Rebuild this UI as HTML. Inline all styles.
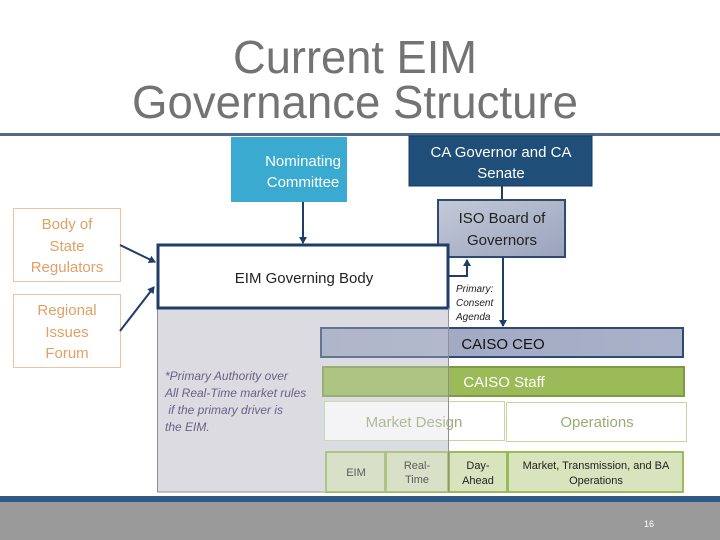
<!DOCTYPE html>
<html><head><meta charset="utf-8"><style>
html,body{margin:0;padding:0;background:#fff;}
svg{display:block;font-family:"Liberation Sans",sans-serif;}
</style></head><body>
<svg width="720" height="540" viewBox="0 0 720 540" xmlns="http://www.w3.org/2000/svg">
<defs>
<linearGradient id="gb" x1="0" y1="0" x2="1" y2="1"><stop offset="0" stop-color="#c4cad8"/><stop offset="1" stop-color="#9aa3bd"/></linearGradient>
<linearGradient id="ceo" x1="0" y1="0" x2="1" y2="0"><stop offset="0" stop-color="#9ea6c0"/><stop offset="1" stop-color="#aab2ca"/></linearGradient>
<marker id="ah" markerWidth="8" markerHeight="8" refX="6" refY="4" orient="auto" markerUnits="userSpaceOnUse"><path d="M0,0 L7,4 L0,8 z" fill="#1f3d66"/></marker>
</defs>
<text x="355" y="73" font-size="46" fill="#737373" text-anchor="middle" textLength="244" lengthAdjust="spacingAndGlyphs">Current EIM</text>
<text x="355" y="118" font-size="46" fill="#737373" text-anchor="middle" textLength="446" lengthAdjust="spacingAndGlyphs">Governance Structure</text>
<rect x="0" y="133" width="720" height="3" fill="#4f6a8a"/>
<rect x="157.5" y="308" width="291" height="184" fill="#dcdbe2" stroke="#8f8f9a" stroke-width="1"/>
<rect x="231" y="137" width="116" height="65" fill="#3aaad0"/>
<text x="303" y="166" font-size="15" fill="#fff" text-anchor="middle">Nominating</text>
<text x="303" y="187" font-size="15" fill="#fff" text-anchor="middle">Committee</text>
<rect x="409" y="136" width="183" height="50" fill="#1f4e79" stroke="#173a5e"/>
<text x="501" y="157" font-size="15" fill="#fff" text-anchor="middle">CA Governor and CA</text>
<text x="501" y="178" font-size="15" fill="#fff" text-anchor="middle">Senate</text>
<line x1="502" y1="186" x2="502" y2="200" stroke="#1f3d66" stroke-width="2"/>
<rect x="438" y="200" width="127" height="57" fill="url(#gb)" stroke="#2f4a70" stroke-width="2"/>
<text x="502" y="223" font-size="15" fill="#222" text-anchor="middle">ISO Board of</text>
<text x="502" y="245" font-size="15" fill="#222" text-anchor="middle">Governors</text>
<rect x="13.5" y="208.5" width="107" height="73" fill="#fff" stroke="#f2c39a"/>
<text x="67" y="229" font-size="15" fill="#e3a064" text-anchor="middle">Body of</text>
<text x="67" y="251" font-size="15" fill="#e3a064" text-anchor="middle">State</text>
<text x="67" y="272" font-size="15" fill="#e3a064" text-anchor="middle">Regulators</text>
<rect x="13.5" y="294.5" width="107" height="73" fill="#fff" stroke="#f2c39a"/>
<text x="67" y="315" font-size="15" fill="#e3a064" text-anchor="middle">Regional</text>
<text x="67" y="337" font-size="15" fill="#e3a064" text-anchor="middle">Issues</text>
<text x="67" y="358" font-size="15" fill="#e3a064" text-anchor="middle">Forum</text>
<rect x="158" y="245" width="290" height="63" fill="#fff" stroke="#1f3d66" stroke-width="3"/>
<text x="304" y="283" font-size="15" fill="#222" text-anchor="middle">EIM Governing Body</text>
<line x1="303" y1="202" x2="303" y2="243" stroke="#1f3d66" stroke-width="2" marker-end="url(#ah)"/>
<line x1="120" y1="245" x2="155" y2="262" stroke="#1f3d66" stroke-width="2" marker-end="url(#ah)"/>
<line x1="120" y1="331" x2="154" y2="287" stroke="#1f3d66" stroke-width="2" marker-end="url(#ah)"/>
<polyline points="449,276 467,276 467,260" fill="none" stroke="#1f3d66" stroke-width="2" marker-end="url(#ah)"/>
<line x1="503" y1="257" x2="503" y2="326" stroke="#1f3d66" stroke-width="2" marker-end="url(#ah)"/>
<text font-size="10" font-style="italic" fill="#222"><tspan x="456" y="292">Primary:</tspan><tspan x="456" y="306">Consent</tspan><tspan x="456" y="320">Agenda</tspan></text>
<rect x="321" y="328" width="362" height="29" fill="url(#ceo)" stroke="#2f4a70" stroke-width="2"/>
<text x="503" y="349" font-size="15" fill="#111" text-anchor="middle">CAISO CEO</text>
<rect x="323" y="367" width="361" height="29" fill="#9bbb59" stroke="#7f9a46" stroke-width="2"/>
<text x="504" y="387" font-size="15" fill="#fff" text-anchor="middle">CAISO Staff</text>
<rect x="324.5" y="401.5" width="180" height="39" fill="#fff" stroke="#c6d6a2"/>
<text x="414" y="427" font-size="15" fill="#9aae72" text-anchor="middle">Market Design</text>
<rect x="506.5" y="402.5" width="180" height="39" fill="#fff" stroke="#c6d6a2"/>
<text x="597" y="427" font-size="15" fill="#9aae72" text-anchor="middle">Operations</text>
<g fill="#d7e4bd" stroke="#9bbb59" stroke-width="2">
<rect x="326" y="452" width="59" height="40"/>
<rect x="386" y="452" width="62" height="40"/>
<rect x="449" y="452" width="58" height="40"/>
<rect x="508" y="452" width="175" height="40"/>
</g>
<text x="356" y="476" font-size="11" fill="#222" text-anchor="middle">EIM</text>
<text x="417" y="469" font-size="11" fill="#222" text-anchor="middle">Real-</text>
<text x="417" y="483" font-size="11" fill="#222" text-anchor="middle">Time</text>
<text x="478" y="469" font-size="11" fill="#222" text-anchor="middle">Day-</text>
<text x="478" y="484" font-size="11" fill="#222" text-anchor="middle">Ahead</text>
<text x="596" y="469" font-size="11" fill="#222" text-anchor="middle">Market, Transmission, and BA</text>
<text x="596" y="484" font-size="11" fill="#222" text-anchor="middle">Operations</text>
<rect x="320" y="326" width="128.5" height="166" fill="#dcdbe2" fill-opacity="0.3"/>
<line x1="448.5" y1="308" x2="448.5" y2="492" stroke="#8f8f9a" stroke-width="1"/>
<text font-size="12" font-style="italic" fill="#6b5f86"><tspan x="165" y="380">*Primary Authority over</tspan><tspan x="165" y="397">All Real-Time market rules</tspan><tspan x="165" y="414"> if the primary driver is</tspan><tspan x="165" y="431">the EIM.</tspan></text>
<rect x="0" y="496" width="720" height="6" fill="#2e5a87"/>
<rect x="0" y="502" width="720" height="38" fill="#9a9a9a"/>
<text x="649" y="527" font-size="9" fill="#fff" text-anchor="middle">16</text>
</svg>
</body></html>
